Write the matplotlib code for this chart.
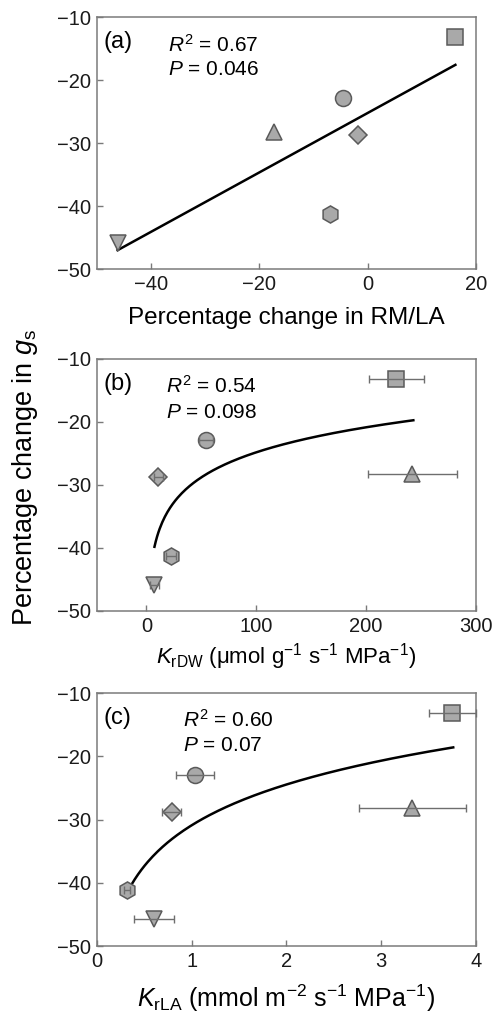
import matplotlib
matplotlib.use('Agg')
import matplotlib.pyplot as plt
import numpy as np

plt.rcParams['font.family'] = ['Liberation Sans', 'DejaVu Sans']
plt.rcParams['mathtext.fontset'] = 'custom'
plt.rcParams['mathtext.rm'] = 'Liberation Sans'
plt.rcParams['mathtext.it'] = 'Liberation Sans:italic'

# marker for each of the six cases (same order in every panel)
markers = ['s', 'o', '^', 'D', 'h', 'v']
msizes = [11.2, 11.5, 11.5, 8.8, 12.3, 11.5]

# y: percentage change in gs
gs_change = [-13.1, -22.9, -28.2, -28.8, -41.2, -45.8]

# (a) percentage change in RM/LA
rmla_change = [16.2, -4.6, -17.3, -1.8, -7.0, -46.2]

# (b) KrDW and its error
krdw = [227.6, 54.4, 242.2, 10.9, 22.5, 7.3]
krdw_err = [25.0, 6.5, 40.6, 3.8, 4.5, 4.5]
krdw_fit = [-51.2, 5.73]      # y = a + b ln(x)
krdw_fit_range = [7.3, 243.0]

# (c) KrLA and its error
krla = [3.75, 1.03, 3.33, 0.79, 0.32, 0.60]
krla_err = [0.25, 0.20, 0.56, 0.10, 0.03, 0.21]
krla_fit = [-30.9, 9.29]
krla_fit_range = [0.33, 3.76]

stats = [('0.67', '0.046'), ('0.54', '0.098'), ('0.60', '0.07')]
letters = ['(a)', '(b)', '(c)']

fill = '#a9a9a9'
edge = '#5a5a5a'
spine = '#7a7a7a'


def style_axis(ax, xlim, xticks):
    ax.set_xlim(xlim)
    ax.set_ylim(-50, -10)
    ax.set_xticks(xticks)
    ax.set_yticks([-50, -40, -30, -20, -10])
    ax.set_yticklabels(['\u221250', '\u221240', '\u221230', '\u221220', '\u221210'])
    ax.tick_params(direction='in', length=4.5, width=1, color=spine,
                   labelsize=14.5, pad=4, labelcolor='#1a1a1a')
    for s in ax.spines.values():
        s.set_color(spine)
        s.set_linewidth(1.1)


def draw_points(ax, xs, ys):
    for x, y, m, ms in zip(xs, ys, markers, msizes):
        ax.plot(x, y, linestyle='none', marker=m, ms=ms, mfc=fill, mec=edge,
                mew=1.1, zorder=3)


fig = plt.figure(figsize=(4.96, 10.19), dpi=100)
ax_a = fig.add_axes([0.1956, 0.736, 0.764, 0.2473])
ax_b = fig.add_axes([0.1956, 0.4004, 0.764, 0.2473])
ax_c = fig.add_axes([0.1956, 0.0716, 0.764, 0.2483])

# (a)
draw_points(ax_a, rmla_change, gs_change)
k, c0 = np.polyfit(rmla_change, gs_change, 1)
xl = np.array([min(rmla_change), max(rmla_change)])
ax_a.plot(xl, k * xl + c0, color='black', lw=1.8, zorder=2)
style_axis(ax_a, (-50, 20), [-40, -20, 0, 20])
ax_a.set_xticklabels(['\u221240', '\u221220', '0', '20'])
ax_a.set_xlabel('Percentage change in RM/LA', fontsize=17.5, labelpad=10)

# (b)
draw_points(ax_b, krdw, gs_change)
ax_b.errorbar(krdw, gs_change, xerr=krdw_err, fmt='none', ecolor='#6e6e6e',
              elinewidth=1, capsize=3, capthick=1, zorder=4)
xf = np.linspace(krdw_fit_range[0], krdw_fit_range[1], 200)
ax_b.plot(xf, krdw_fit[0] + krdw_fit[1] * np.log(xf), color='black', lw=1.8, zorder=2)
style_axis(ax_b, (-45, 300), [0, 100, 200, 300])
ax_b.set_xlabel(r'$K_\mathrm{rDW}$ (μmol g$^{-1}$ s$^{-1}$ MPa$^{-1}$)', fontsize=16, labelpad=4)

# (c)
draw_points(ax_c, krla, gs_change)
ax_c.errorbar(krla, gs_change, xerr=krla_err, fmt='none', ecolor='#6e6e6e',
              elinewidth=1, capsize=3, capthick=1, zorder=4, clip_on=False)
xf = np.linspace(krla_fit_range[0], krla_fit_range[1], 200)
ax_c.plot(xf, krla_fit[0] + krla_fit[1] * np.log(xf), color='black', lw=1.8, zorder=2)
style_axis(ax_c, (0, 4), [0, 1, 2, 3, 4])
ax_c.set_xlabel(r'$K_\mathrm{rLA}$ (mmol m$^{-2}$ s$^{-1}$ MPa$^{-1}$)', fontsize=18, labelpad=9)

text_x = [0.187, 0.181, 0.227]
text_y = [(0.861, 0.77), (0.864, 0.765), (0.866, 0.772)]
for ax, lt, (r2, p), tx, (ty1, ty2) in zip([ax_a, ax_b, ax_c], letters, stats, text_x, text_y):
    ax.text(0.018, 0.90, lt, transform=ax.transAxes, fontsize=17, va='center')
    ax.text(tx, ty1, r'$R^2$ = ' + r2, transform=ax.transAxes, fontsize=15, va='baseline')
    ax.text(tx, ty2, r'$P$ = ' + p, transform=ax.transAxes, fontsize=15, va='baseline')

fig.text(0.05, 0.532, r'Percentage change in $g_\mathrm{s}$', rotation=90,
         fontsize=19.5, ha='center', va='center')

fig.savefig('out.png', dpi=100)
